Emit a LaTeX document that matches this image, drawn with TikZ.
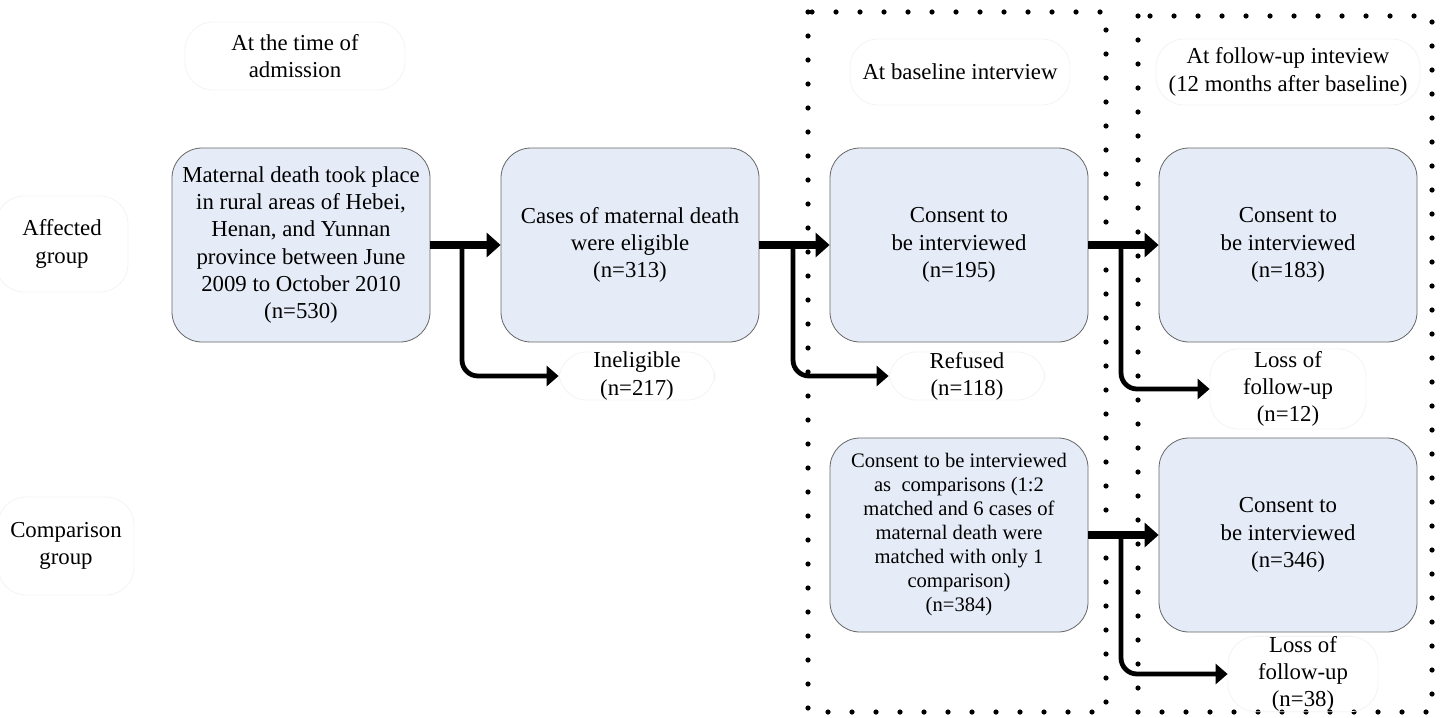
\documentclass[tikz,border=0pt]{standalone}
\usepackage{fontspec}
\setmainfont{Liberation Serif}
\usetikzlibrary{arrows.meta}

\definecolor{boxblue}{HTML}{E6ECF7}
\definecolor{faintline}{HTML}{F3F3F3}

\tikzset{
	stagebox/.style={draw=black!60, fill=boxblue, rounded corners=15pt, minimum width=129pt, minimum height=97pt, align=center, inner sep=1pt},
	tagbox/.style={draw=faintline, rounded corners=14pt, align=center, inner sep=0pt},
	mainarrow/.style={line width=4pt, -{Triangle[length=7pt,width=12pt]}},
	sidearrow/.style={line width=2.4pt, rounded corners=8pt, -{Triangle[length=6pt,width=10pt]}},
	dotframe/.style={line width=2.6pt, line cap=round, dash pattern=on 0pt off 12pt}
}

\begin{document}
\begin{tikzpicture}[x=0.5pt, y=-0.5pt, font=\fontsize{11.4}{13.6}\selectfont]
			\useasboundingbox (0,0) rectangle (1443,717);
			% periods
			\draw [dotframe] (808,12) rectangle (1106,712);
			\draw [dotframe] (1138,16) rectangle (1432,712);
			% headings
			\node [tagbox, minimum width=110pt, minimum height=34pt] (tadm) at (295,56) {At the time of\\admission};
			\node [tagbox, minimum width=110pt, minimum height=33pt] (tbase) at (960,72) {At baseline interview};
			\node [tagbox, minimum width=132pt, minimum height=33pt] (tfol) at (1288,72) {At follow-up inteview\\(12 months after baseline)};
			\node [tagbox, minimum width=66pt, minimum height=48pt] (gaff) at (62,244) {Affected\\group};
			\node [tagbox, minimum width=68pt, minimum height=49pt] (gcmp) at (66,546) {Comparison\\group};
			% stages
			\node [stagebox] (death) at (301,245) {Maternal death took place\\in rural areas of Hebei,\\Henan, and Yunnan\\province between June\\2009 to October 2010\\(n=530)};
			\node [stagebox] (elig) at (630,245) {Cases of maternal death\\were eligible\\(n=313)};
			\node [stagebox] (base) at (959,245) {Consent to\\be interviewed\\(n=195)};
			\node [stagebox] (follow) at (1288,245) {Consent to\\be interviewed\\(n=183)};
			\node [stagebox, font=\fontsize{10.3}{12}\selectfont] (cbase) at (959,535) {Consent to be interviewed\\as\ \ comparisons (1:2\\matched and 6 cases of\\maternal death were\\matched with only 1\\comparison)\\(n=384)};
			\node [stagebox] (cfollow) at (1288,535) {Consent to\\be interviewed\\(n=346)};
			% losses
			\node [tagbox, minimum width=78pt, minimum height=24pt] (inel) at (637,376) {Ineligible\\(n=217)};
			\node [tagbox, minimum width=78pt, minimum height=24pt] (refu) at (967,376) {Refused\\(n=118)};
			\node [tagbox, minimum width=78pt, minimum height=40pt] (loss) at (1288,389) {Loss of\\follow-up\\(n=12)};
			\node [tagbox, minimum width=75pt, minimum height=36pt] (closs) at (1303,674) {Loss of\\follow-up\\(n=38)};
			% flow
			\draw [mainarrow] (death.east) -- (elig.west);
			\draw [mainarrow] (elig.east) -- (base.west);
			\draw [mainarrow] (base.east) -- (follow.west);
			\draw [mainarrow] (cbase.east) -- (cfollow.west);
			\coordinate (s1) at (462,245);
			\coordinate (s2) at (793,245);
			\coordinate (s3) at (1121,245);
			\coordinate (s4) at (1121,535);
			\draw [sidearrow] (s1) |- (inel.west);
			\draw [sidearrow] (s2) |- (refu.west);
			\draw [sidearrow] (s3) |- (loss.west);
			\draw [sidearrow] (s4) |- (closs.west);
\end{tikzpicture}
\end{document}
